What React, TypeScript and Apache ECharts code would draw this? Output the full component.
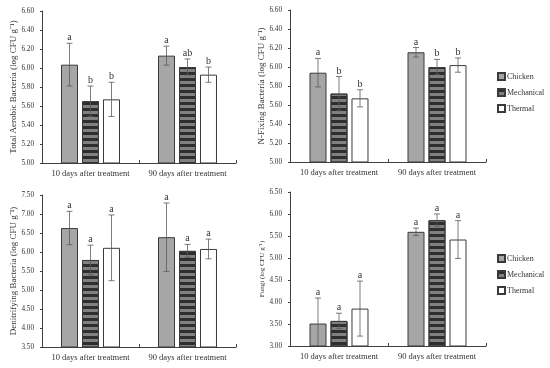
import React, { useEffect, useRef } from 'react';
import * as echarts from 'echarts';

const categories = ['10 days after treatment', '90 days after treatment'];
const treatments = ['Chicken', 'Mechanical', 'Thermal'];

// rows: Chicken, Mechanical, Thermal ; cols: 10 d, 90 d
const aerobicMeans = [[6.035, 6.13], [5.65, 6.01], [5.67, 5.93]];
const aerobicSd = [[0.225, 0.10], [0.16, 0.085], [0.18, 0.08]];
const aerobicLetters = [['a', 'a'], ['b', 'ab'], ['b', 'b']];

const nfixMeans = [[5.94, 6.155], [5.72, 6.0], [5.67, 6.02]];
const nfixSd = [[0.15, 0.05], [0.18, 0.08], [0.09, 0.075]];
const nfixLetters = [['a', 'a'], ['b', 'b'], ['b', 'b']];

const denitMeans = [[6.63, 6.39], [5.79, 6.03], [6.11, 6.08]];
const denitSd = [[0.44, 0.9], [0.39, 0.17], [0.865, 0.26]];
const denitLetters = [['a', 'a'], ['a', 'a'], ['a', 'a']];

const fungiMeans = [[3.51, 5.595], [3.57, 5.86], [3.85, 5.42]];
const fungiSd = [[0.58, 0.085], [0.175, 0.14], [0.625, 0.43]];
const fungiLetters = [['a', 'a'], ['a', 'a'], ['a', 'a']];

const FONT = 'Liberation Serif';

const panels = [
  { name: 'Total Aerobic Bacteria (log CFU g⁻¹)', nameSize: 9, nameGap: 24.5, min: 5, max: 6.6, interval: 0.2, means: aerobicMeans, sd: aerobicSd, letters: aerobicLetters, grid: { left: 42, top: 11, width: 194, height: 152 } },
  { name: 'N-Fixing Bacteria (log CFU g⁻¹)', nameSize: 9, nameGap: 22.5, min: 5, max: 6.6, interval: 0.2, means: nfixMeans, sd: nfixSd, letters: nfixLetters, grid: { left: 290, top: 10, width: 196, height: 152 } },
  { name: 'Denitrifying Bacteria (log CFU g⁻¹)', nameSize: 9, nameGap: 22.5, min: 3.5, max: 7.5, interval: 0.5, means: denitMeans, sd: denitSd, letters: denitLetters, grid: { left: 42, top: 195, width: 194, height: 152 } },
  { name: 'Fungi (log CFU g⁻¹)', nameSize: 7, nameGap: 24, min: 3, max: 6.5, interval: 0.5, means: fungiMeans, sd: fungiSd, letters: fungiLetters, grid: { left: 290, top: 192, width: 196, height: 154 } },
];

const BAR_W = 17;
const BAR_STEP = 21;

const barStyles: any[] = [
  { color: '#a6a6a6', borderColor: '#3a3a3a', borderWidth: 1 },
  {
    color: '#808080', borderColor: '#3a3a3a', borderWidth: 1,
    decal: { symbol: 'rect', symbolSize: 1, color: '#2e2e2e', dashArrayX: [10, 0], dashArrayY: [3, 3], rotation: 0 },
  },
  { color: '#ffffff', borderColor: '#3a3a3a', borderWidth: 1 },
];

export default function App() {
  const ref = useRef<HTMLDivElement>(null);
  useEffect(() => {
    document.body.style.margin = '0';
    const chart = echarts.init(ref.current!, undefined, { renderer: 'svg' });
    const series: any[] = [];
    panels.forEach((p, pi) => {
      treatments.forEach((t, ti) => {
        series.push({
          type: 'bar', name: t, xAxisIndex: pi, yAxisIndex: pi,
          data: p.means[ti], barWidth: BAR_W, barGap: '23.5%',
          itemStyle: barStyles[ti], z: 2,
        });
      });
      treatments.forEach((t, ti) => {
        const offset = (ti - 1) * BAR_STEP;
        series.push({
          type: 'custom', xAxisIndex: pi, yAxisIndex: pi, z: 5, silent: true,
          data: p.means[ti].map((m, c) => [c, m, p.sd[ti][c]]),
          renderItem: (params: any, api: any) => {
            const c = api.value(0), m = api.value(1), s = api.value(2);
            const top = api.coord([c, m + s]);
            const bot = api.coord([c, m - s]);
            const cs = params.coordSys;
            const bottomLimit = cs.y + cs.height;
            const x = top[0] + offset;
            const clamped = bot[1] > bottomLimit;
            const by = clamped ? bottomLimit : bot[1];
            const st = { stroke: '#5a5a5a', lineWidth: 0.8 };
            const children: any[] = [
              { type: 'line', shape: { x1: x, y1: top[1], x2: x, y2: by }, style: st },
              { type: 'line', shape: { x1: x - 3, y1: top[1], x2: x + 3, y2: top[1] }, style: st },
              {
                type: 'text',
                style: {
                  text: p.letters[ti][c], x, y: top[1] - 1.5, align: 'center', verticalAlign: 'bottom',
                  fontFamily: FONT, fontSize: 10, fill: '#333333',
                },
              },
            ];
            if (!clamped) children.push({ type: 'line', shape: { x1: x - 3, y1: by, x2: x + 3, y2: by }, style: st });
            return { type: 'group', children };
          },
        });
      });
    });

    const legendCommon = {
      data: treatments, orient: 'vertical', left: 497, itemWidth: 7, itemHeight: 7, itemGap: 7, padding: 0,
      icon: 'rect', textStyle: { fontFamily: FONT, fontSize: 8, color: '#333333', padding: [0, 0, 0, -3] },
      selectedMode: false,
    };

    chart.setOption({
      animation: false,
      backgroundColor: '#fff',
      grid: panels.map((p) => ({ ...p.grid, containLabel: false })),
      legend: [
        { ...legendCommon, top: 72 },
        { ...legendCommon, top: 254 },
      ],
      xAxis: panels.map((p, i) => ({
        type: 'category', gridIndex: i, data: categories,
        axisLine: { lineStyle: { color: '#404040', width: 1 } },
        axisTick: { show: true, inside: true, length: 3, lineStyle: { color: '#404040' } },
        axisLabel: { interval: 0, hideOverlap: false, fontFamily: FONT, fontSize: 8.5, color: '#333333', margin: 5 },
      })),
      yAxis: panels.map((p, i) => ({
        type: 'value', gridIndex: i, min: p.min, max: p.max, interval: p.interval,
        name: p.name, nameLocation: 'middle', nameGap: p.nameGap,
        nameTextStyle: { fontFamily: FONT, fontSize: p.nameSize, color: '#333333' },
        splitLine: { show: false },
        axisLine: { show: true, lineStyle: { color: '#404040', width: 1 } },
        axisTick: { show: true, length: 2, lineStyle: { color: '#404040' } },
        axisLabel: { fontFamily: FONT, fontSize: 7.2, color: '#333333', margin: 8, formatter: (v: number) => v.toFixed(2) },
      })),
      series,
    });
    return () => chart.dispose();
  }, []);
  return <div ref={ref} style={{ width: 550, height: 368, filter: 'grayscale(1)' }} />;
}
